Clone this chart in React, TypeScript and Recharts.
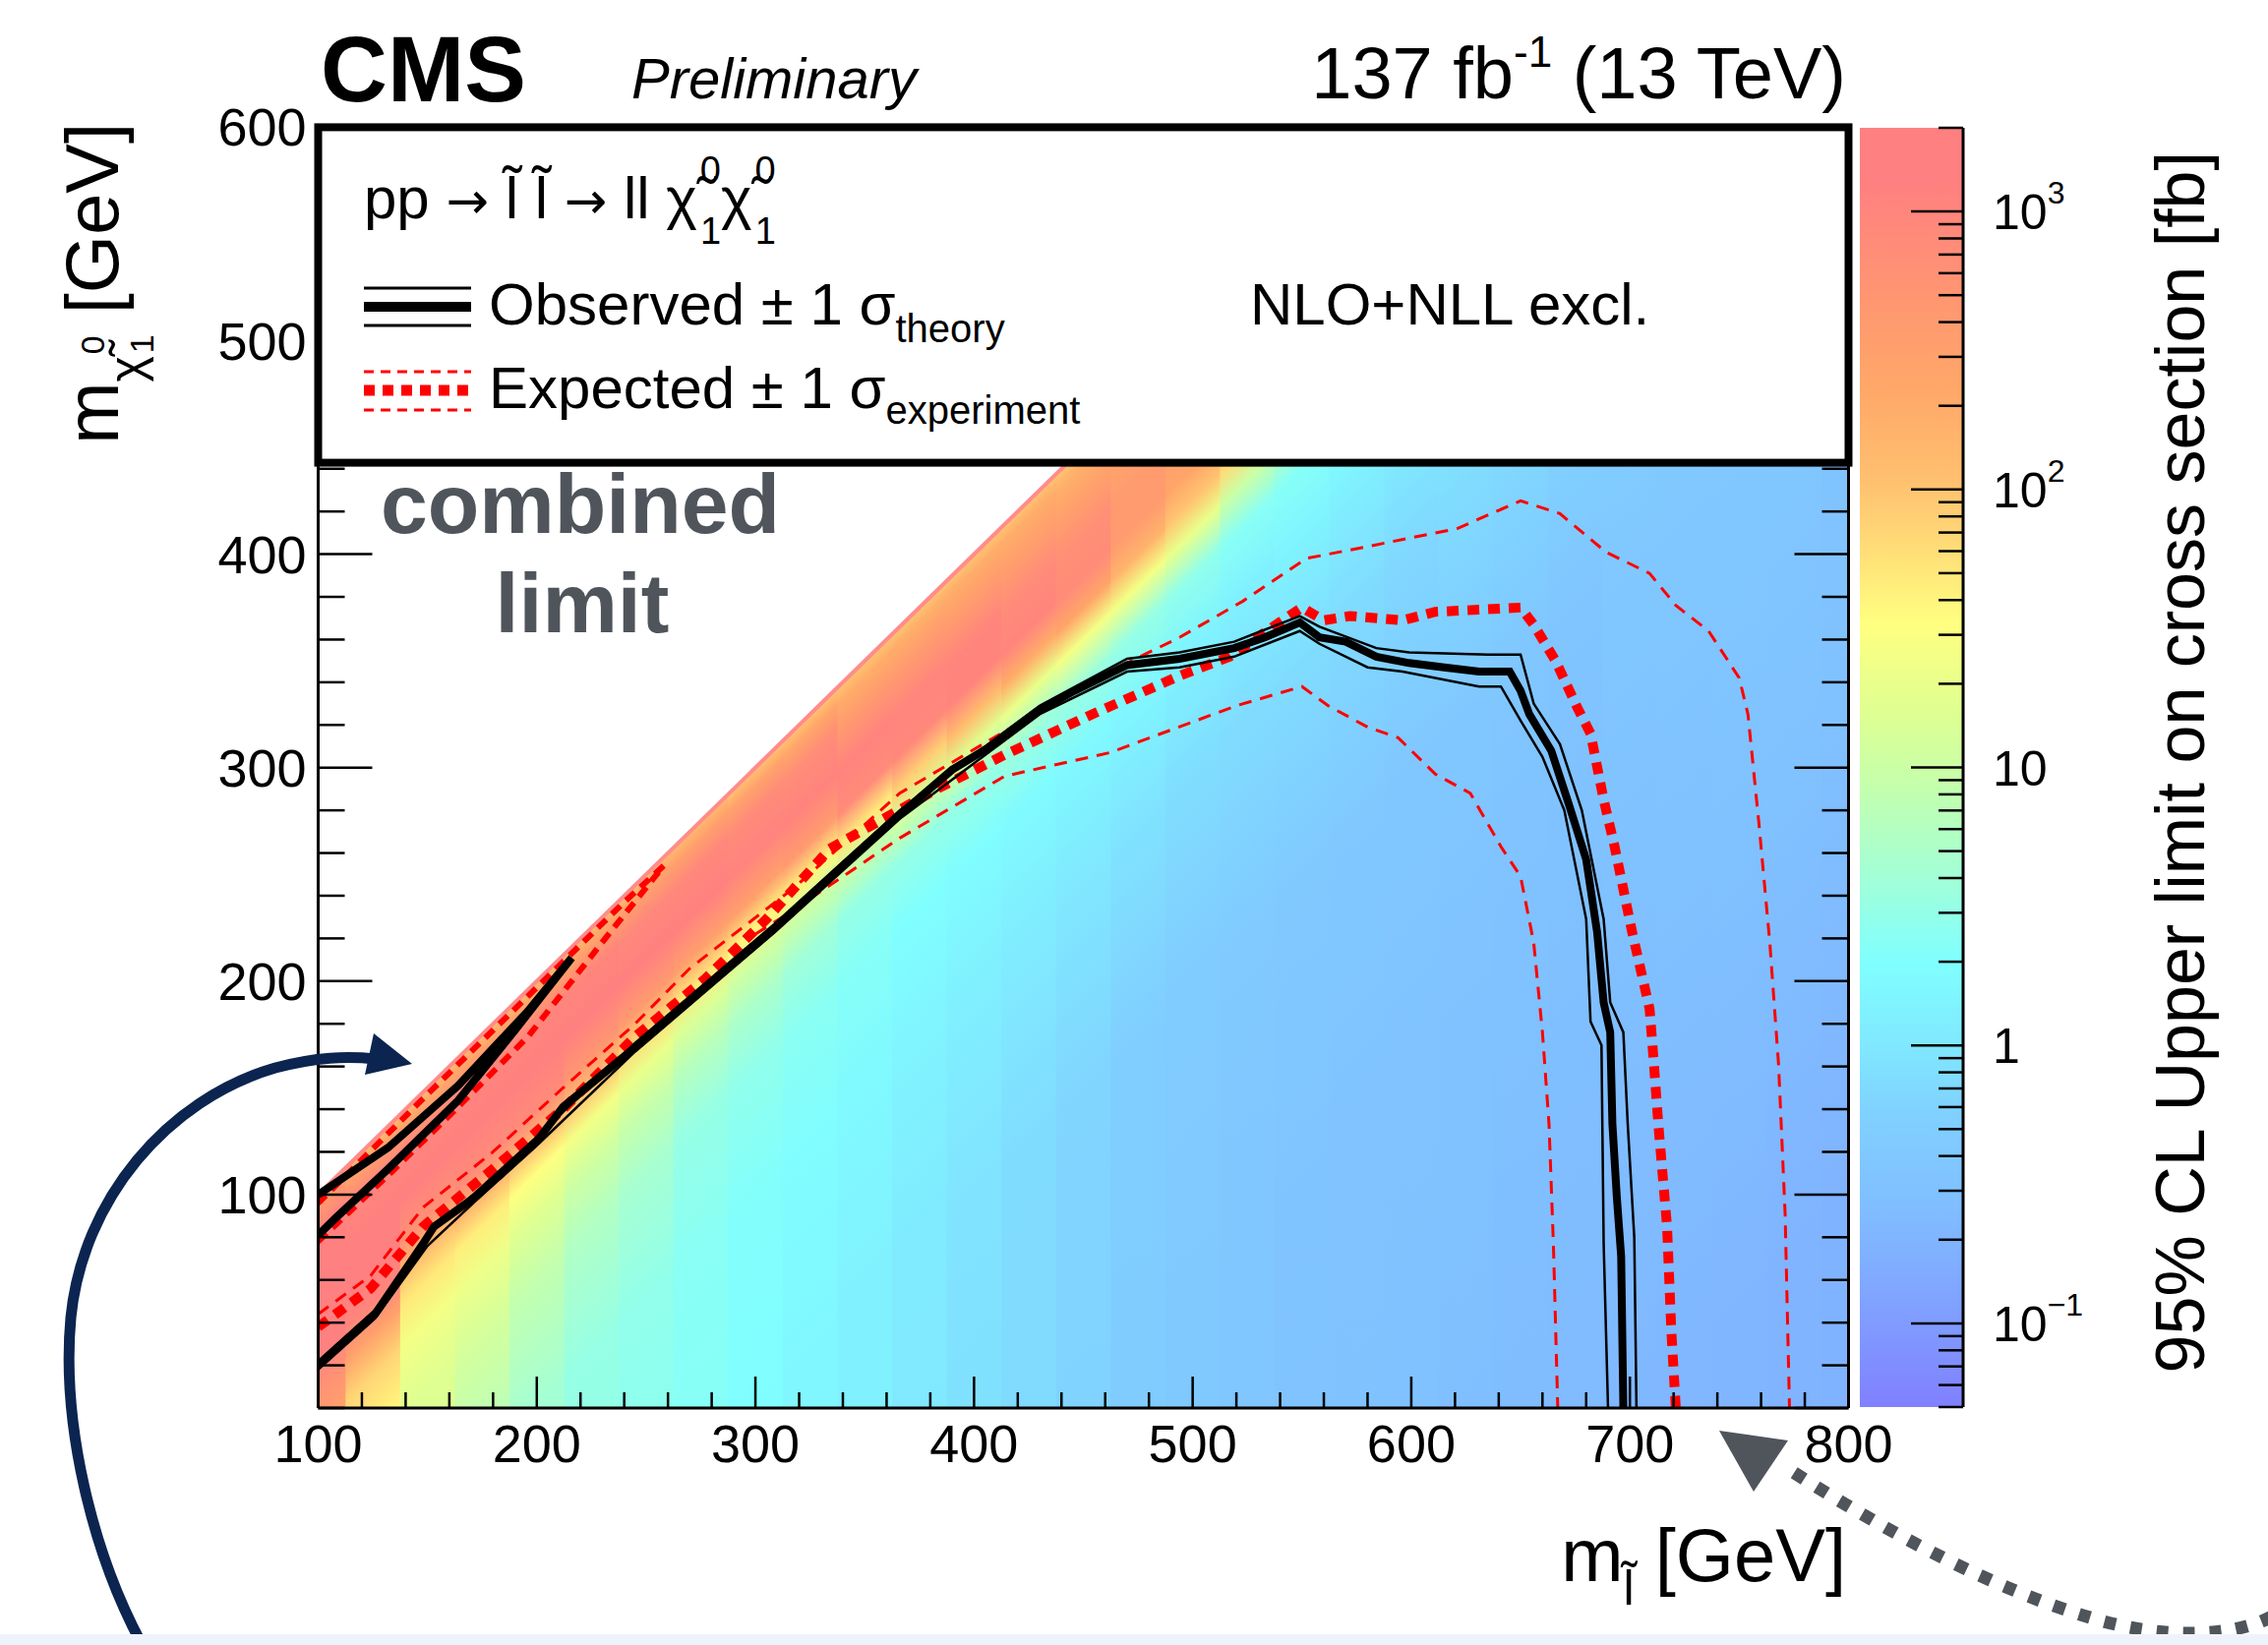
import React from "react";
import { ComposedChart, Line, XAxis, YAxis, ReferenceArea } from "recharts";

const FONT = '"Liberation Sans", Arial, Helvetica, sans-serif';
const SYM_FONT = '"DejaVu Sans", sans-serif';

const X_MIN = 100;
const X_MAX = 800;
const Y_MAX = 600;

const X_TICKS = [100, 120, 140, 160, 180, 200, 220, 240, 260, 280, 300, 320, 340, 360, 380, 400, 420, 440, 460, 480, 500, 520, 540, 560, 580, 600, 620, 640, 660, 680, 700, 720, 740, 760, 780, 800];
const X_LABELS = [100, 200, 300, 400, 500, 600, 700, 800];
const Y_TICKS = [0, 20, 40, 60, 80, 100, 120, 140, 160, 180, 200, 220, 240, 260, 280, 300, 320, 340, 360, 380, 400, 420, 440, 460, 480, 500, 520, 540, 560, 580, 600];
const Y_LABELS = [100, 200, 300, 400, 500, 600];

const CB_DOMAIN = [0.05, 2000];
const CB_TICKS = [0.05, 0.06, 0.07, 0.08, 0.09, 0.1, 0.2, 0.3, 0.4, 0.5, 0.6, 0.7, 0.8, 0.9, 1, 2, 3, 4, 5, 6, 7, 8, 9, 10, 20, 30, 40, 50, 60, 70, 80, 90, 100, 200, 300, 400, 500, 600, 700, 800, 900, 1000, 2000];
const CB_LABELS = [0.1, 1, 10, 100, 1000];

// colour palette (log10 of the limit in fb -> colour)
const PAL_LOG = [-1.3, -0.86, -0.55, -0.25, 0, 0.3, 0.66, 0.97, 1.21, 1.52, 1.76, 2.03, 2.35, 2.65, 3.1, 3.31];
const PAL_HEX = ["#8080ff", "#80a8ff", "#80c0ff", "#80d0ff", "#80e8ff", "#80ffff", "#a8ffd0", "#c8ffa8", "#e0ff90", "#ffff80", "#ffe078", "#ffc070", "#ffa868", "#ff9870", "#ff8080", "#ff8080"];

// heat map: one column per 25 GeV slepton mass, log10(limit/fb) vs distance to the diagonal
const HEAT_COLUMNS = [100, 125, 150, 175, 200, 225, 250, 275, 300, 325, 350, 375, 400, 425, 450, 475, 500, 525, 550, 575, 600, 625, 650, 675, 700, 725, 750, 775, 800];
const HEAT_DM = [0, 8, 20, 40, 60, 75, 90, 110, 140, 200, 300, 450, 700];
const HEAT_LOG = [
  [2.2, 2.7, 3.1, 3.2, 3.2, 3.1, 2.8, 2.5, 2.5, 2.5, 2.5, 2.5, 2.5],
  [2.1, 2.5, 3.0, 3.2, 3.2, 3.0, 2.5, 1.85, 1.55, 1.5, 1.5, 1.5, 1.5],
  [2.1, 2.5, 3.0, 3.15, 2.8, 2.1, 1.7, 1.4, 1.2, 1.15, 1.15, 1.15, 1.15],
  [2.1, 2.5, 3.0, 3.15, 2.9, 2.2, 1.65, 1.35, 1.1, 0.8, 0.8, 0.8, 0.8],
  [2.1, 2.5, 3.0, 3.15, 2.9, 2.1, 1.5, 1.2, 0.92, 0.62, 0.6, 0.6, 0.6],
  [2.1, 2.5, 3.0, 3.1, 2.7, 2.0, 1.4, 1.05, 0.75, 0.5, 0.45, 0.45, 0.45],
  [2.1, 2.5, 2.95, 3.1, 2.6, 1.8, 1.3, 0.95, 0.65, 0.45, 0.4, 0.4, 0.4],
  [2.1, 2.5, 2.95, 3.1, 2.5, 1.7, 1.15, 0.8, 0.5, 0.38, 0.35, 0.35, 0.35],
  [2.0, 2.45, 2.9, 3.05, 2.5, 1.6, 1.05, 0.7, 0.45, 0.32, 0.28, 0.28, 0.28],
  [2.0, 2.4, 2.85, 3.05, 2.6, 1.6, 1.0, 0.6, 0.4, 0.28, 0.2, 0.2, 0.2],
  [2.0, 2.3, 2.6, 3.05, 2.9, 1.7, 1.0, 0.5, 0.35, 0.22, 0.12, 0.12, 0.12],
  [2.0, 2.3, 2.6, 3.0, 2.95, 1.9, 1.1, 0.5, 0.3, 0.15, 0.02, 0.0, 0.0],
  [2.0, 2.3, 2.55, 3.0, 3.0, 2.1, 1.2, 0.5, 0.28, 0.1, -0.05, -0.08, -0.08],
  [2.0, 2.3, 2.5, 2.9, 3.0, 2.3, 1.3, 0.55, 0.25, 0.05, -0.12, -0.15, -0.15],
  [2.0, 2.25, 2.45, 2.8, 2.9, 2.4, 1.4, 0.55, 0.22, 0.0, -0.2, -0.22, -0.22],
  [1.95, 2.2, 2.4, 2.6, 2.6, 2.2, 1.4, 0.5, 0.2, -0.05, -0.28, -0.32, -0.33],
  [1.9, 2.1, 2.3, 2.5, 2.4, 2.0, 1.3, 0.45, 0.15, -0.1, -0.35, -0.38, -0.4],
  [1.8, 2.0, 2.2, 2.3, 2.2, 1.8, 1.0, 0.38, 0.12, -0.12, -0.37, -0.43, -0.45],
  [1.7, 1.9, 2.1, 2.2, 2.0, 1.5, 0.8, 0.35, 0.15, -0.12, -0.38, -0.47, -0.5],
  [1.6, 1.8, 2.0, 2.0, 1.8, 1.3, 0.7, 0.3, 0.1, -0.15, -0.4, -0.5, -0.52],
  [1.5, 1.7, 1.9, 1.9, 1.6, 1.1, 0.6, 0.25, 0.05, -0.18, -0.42, -0.5, -0.54],
  [1.4, 1.6, 1.8, 1.8, 1.5, 1.0, 0.5, 0.2, 0.0, -0.15, -0.42, -0.52, -0.57],
  [1.3, 1.5, 1.7, 1.7, 1.4, 0.9, 0.45, 0.15, -0.05, -0.17, -0.43, -0.54, -0.6],
  [1.2, 1.4, 1.6, 1.6, 1.3, 0.8, 0.4, 0.1, -0.1, -0.22, -0.45, -0.55, -0.62],
  [1.1, 1.3, 1.5, 1.5, 1.2, 0.7, 0.35, 0.05, -0.15, -0.27, -0.4, -0.53, -0.65],
  [1.0, 1.2, 1.4, 1.4, 1.1, 0.6, 0.3, 0.0, -0.2, -0.3, -0.4, -0.52, -0.66],
  [1.0, 1.1, 1.3, 1.3, 1.0, 0.5, 0.2, -0.05, -0.25, -0.35, -0.4, -0.5, -0.68],
  [0.9, 1.0, 1.2, 1.2, 0.9, 0.4, 0.1, -0.1, -0.3, -0.4, -0.42, -0.5, -0.7],
  [0.8, 0.9, 1.1, 1.1, 0.8, 0.3, 0.0, -0.15, -0.3, -0.4, -0.45, -0.52, -0.72],
];

// exclusion contours [m_slepton, m_LSP]
const OBS_MAIN: [number, number][] = [[100, 20], [126, 44], [148, 77], [153, 85], [172, 99], [200, 125], [212, 141], [245, 169], [277, 197], [309, 225], [341, 255], [366, 278], [390, 299], [406, 309], [430, 327], [446, 336], [470, 348], [494, 351], [519, 356], [533, 361], [549, 368], [558, 361], [570, 359], [584, 352], [599, 349], [615, 347], [631, 345], [645, 345], [650, 336], [654, 325], [664, 308], [672, 283], [680, 257], [685, 223], [688, 190], [691, 176], [692, 133], [694, 99], [696, 71], [697, 0]];
const OBS_UP: [number, number][] = [[100, 22], [126, 46], [150, 81], [172, 101], [200, 127], [245, 171], [309, 227], [366, 280], [430, 329], [470, 351], [494, 354], [519, 359], [549, 371], [558, 366], [584, 356], [599, 354], [635, 353], [650, 353], [656, 330], [668, 311], [678, 280], [688, 229], [691, 190], [697, 176], [699, 133], [702, 80], [703, 0]];
const OBS_DOWN: [number, number][] = [[100, 18], [126, 42], [150, 76], [172, 97], [200, 123], [245, 167], [309, 223], [366, 276], [430, 325], [470, 345], [494, 347], [519, 352], [549, 364], [558, 358], [580, 347], [596, 345], [631, 338], [641, 338], [650, 322], [660, 305], [670, 280], [680, 229], [682, 181], [687, 170], [688, 77], [690, 0]];
const OBS_DIAG: [number, number][] = [[100, 100], [132, 122], [164, 151], [196, 186], [216, 211], [190, 177], [164, 144], [132, 112], [108, 89], [100, 81]];
const EXP_MAIN: [number, number][] = [[100, 38], [124, 56], [148, 85], [180, 112], [213, 141], [245, 174], [277, 201], [305, 229], [334, 262], [383, 290], [414, 306], [454, 325], [494, 343], [517, 352], [541, 369], [550, 375], [560, 369], [572, 371], [596, 369], [611, 373], [631, 374], [650, 375], [656, 367], [666, 350], [676, 328], [682, 316], [688, 285], [693, 263], [701, 223], [709, 187], [711, 161], [713, 133], [717, 85], [719, 35], [721, 0]];
const EXP_UP: [number, number][] = [[100, 44], [124, 62], [148, 94], [180, 120], [212, 150], [245, 180], [270, 206], [318, 244], [366, 288], [414, 317], [470, 349], [494, 361], [523, 378], [552, 398], [582, 404], [621, 412], [650, 425], [668, 419], [689, 401], [709, 391], [721, 376], [736, 364], [750, 342], [754, 325], [759, 274], [764, 218], [768, 161], [771, 91], [773, 0]];
const EXP_DOWN: [number, number][] = [[300, 222], [314, 231], [366, 267], [414, 296], [462, 307], [491, 318], [520, 329], [550, 338], [562, 329], [580, 319], [594, 314], [611, 297], [627, 288], [641, 263], [650, 249], [656, 218], [660, 176], [663, 133], [665, 77], [667, 0]];
const EXP_DIAG: [number, number][] = [[100, 78], [132, 109], [164, 141], [196, 174], [229, 217], [258, 254], [240, 237], [200, 197], [150, 147], [100, 96]];
const DIAG_EDGE: [number, number][] = [[100, 100], [600, 600]];

const HALF_BIN = 12.5;
const DM_SPAN = HEAT_DM[HEAT_DM.length - 1];

const toPts = (arr: [number, number][]) => arr.map(([x, y]) => ({ x, y }));

function hexRgb(h: string) {
  return [parseInt(h.slice(1, 3), 16), parseInt(h.slice(3, 5), 16), parseInt(h.slice(5, 7), 16)];
}

function colorAt(v: number) {
  if (v <= PAL_LOG[0]) return PAL_HEX[0];
  for (let i = 1; i < PAL_LOG.length; i++) {
    if (v <= PAL_LOG[i]) {
      const t = (v - PAL_LOG[i - 1]) / (PAL_LOG[i] - PAL_LOG[i - 1]);
      const a = hexRgb(PAL_HEX[i - 1]);
      const b = hexRgb(PAL_HEX[i]);
      const c = a.map((ai, k) => Math.round(ai + (b[k] - ai) * t));
      return `rgb(${c[0]},${c[1]},${c[2]})`;
    }
  }
  return PAL_HEX[PAL_HEX.length - 1];
}

function HeatColumn(props: any) {
  const { x, y, width, height, col } = props;
  const c = HEAT_COLUMNS[col];
  const xa = Math.max(X_MIN, c - HALF_BIN);
  const xb = Math.min(X_MAX, c + HALF_BIN);
  const top = Math.min(xb, Y_MAX);
  const kx = width / (xb - xa);
  const ky = height / top;
  const base = y + height;
  const px = (v: number) => x + (v - xa) * kx;
  const py = (v: number) => base - Math.min(v, Y_MAX) * ky;
  // gradient runs perpendicular to the m_LSP = m_slepton diagonal
  const len = Math.hypot(kx, ky);
  const span = (kx * ky * DM_SPAN) / len;
  const gx1 = px(xa);
  const gy1 = base - xa * ky;
  const gx2 = gx1 + (ky / len) * span;
  const gy2 = gy1 + (kx / len) * span;
  const id = `heat-col-${col}`;
  const right = px(xb) + 0.8;
  const pts = `${px(xa)},${base} ${right},${base} ${right},${py(xb)} ${px(xa)},${py(xa)}`;
  return (
    <g>
      <defs>
        <linearGradient id={id} gradientUnits="userSpaceOnUse" x1={gx1} y1={gy1} x2={gx2} y2={gy2}>
          {HEAT_DM.map((dm, i) => (
            <stop key={i} offset={dm / DM_SPAN} stopColor={colorAt(HEAT_LOG[col][i])} />
          ))}
        </linearGradient>
      </defs>
      <polygon points={pts} fill={`url(#${id})`} />
    </g>
  );
}

function XTick(props: any) {
  const { x, y, payload } = props;
  const major = X_LABELS.includes(payload.value);
  return (
    <g>
      <line x1={x} x2={x} y1={y} y2={y - (major ? 32 : 16)} stroke="#000" strokeWidth={2.5} />
      {major && (
        <text x={x} y={y + 55} textAnchor="middle" fontSize={54} fontFamily={FONT} fill="#000">
          {payload.value}
        </text>
      )}
    </g>
  );
}

function YTickLeft(props: any) {
  const { x, y, payload } = props;
  const major = Y_LABELS.includes(payload.value);
  return (
    <g>
      <line x1={x} x2={x + (major ? 55 : 27)} y1={y} y2={y} stroke="#000" strokeWidth={2.5} />
      {major && (
        <text x={x - 12} y={y + 19} textAnchor="end" fontSize={54} fontFamily={FONT} fill="#000">
          {payload.value}
        </text>
      )}
    </g>
  );
}

function YTickRight(props: any) {
  const { x, y, payload } = props;
  const major = Y_LABELS.includes(payload.value) || payload.value === 0;
  return <line x1={x} x2={x - (major ? 55 : 27)} y1={y} y2={y} stroke="#000" strokeWidth={2.5} />;
}

function CbTick(props: any) {
  const { x, y, payload } = props;
  const v = payload.value;
  const major = CB_LABELS.includes(v);
  const exp = Math.round(Math.log10(v));
  return (
    <g>
      <line x1={x} x2={x - (major ? 53 : 25)} y1={y} y2={y} stroke="#000" strokeWidth={2.5} />
      {major && exp === 0 && (
        <text x={x + 30} y={y + 18} fontSize={50} fontFamily={FONT} fill="#000">1</text>
      )}
      {major && exp === 1 && (
        <text x={x + 30} y={y + 18} fontSize={50} fontFamily={FONT} fill="#000">10</text>
      )}
      {major && exp !== 0 && exp !== 1 && (
        <text x={x + 30} y={y + 18} fontSize={50} fontFamily={FONT} fill="#000">
          10<tspan dy={-26} fontSize={32}>{exp < 0 ? "\u2212" + Math.abs(exp) : String(exp)}</tspan>
        </text>
      )}
    </g>
  );
}

const lineProps = { dot: false, activeDot: false, isAnimationActive: false, type: "linear" as const, dataKey: "y" };

export default function App() {
  const cbLogMax = Math.log10(CB_DOMAIN[1]);
  const cbLogMin = Math.log10(CB_DOMAIN[0]);
  const cbStops = PAL_LOG.map((v, i) => ({
    offset: Math.min(1, Math.max(0, (cbLogMax - v) / (cbLogMax - cbLogMin))),
    color: PAL_HEX[i],
  })).reverse();
  return (
    <div style={{ position: "absolute", left: 0, top: 0, width: 2306, height: 1673, background: "#fff", fontFamily: FONT }}>
      <div style={{ position: "absolute", left: 0, top: 0 }}>
        <ComposedChart width={2306} height={1673} margin={{ top: 129.4, right: 366.5, bottom: 181, left: 263.5 }}>
          {HEAT_COLUMNS.map((c, i) => (
            <ReferenceArea
              key={c}
              x1={Math.max(X_MIN, c - HALF_BIN)}
              x2={Math.min(X_MAX, c + HALF_BIN)}
              y1={0}
              y2={Math.min(Y_MAX, c + HALF_BIN)}
              ifOverflow="visible"
              shape={(p: any) => <HeatColumn {...p} col={i} />}
            />
          ))}
          <XAxis
            type="number"
            dataKey="x"
            domain={[X_MIN, X_MAX]}
            allowDataOverflow
            ticks={X_TICKS}
            interval={0}
            height={60}
            tickSize={0}
            tickMargin={0}
            tick={(p: any) => <XTick {...p} />}
            axisLine={{ stroke: "#000", strokeWidth: 3 }}
            tickLine={false}
          />
          <YAxis
            type="number"
            domain={[0, Y_MAX]}
            allowDataOverflow
            ticks={Y_TICKS}
            interval={0}
            width={60}
            tickSize={0}
            tickMargin={0}
            tick={(p: any) => <YTickLeft {...p} />}
            axisLine={{ stroke: "#000", strokeWidth: 3 }}
            tickLine={false}
          />
          <YAxis
            yAxisId="r"
            orientation="right"
            type="number"
            domain={[0, Y_MAX]}
            allowDataOverflow
            ticks={Y_TICKS}
            interval={0}
            width={60}
            tickSize={0}
            tickMargin={0}
            tick={(p: any) => <YTickRight {...p} />}
            axisLine={{ stroke: "#000", strokeWidth: 3 }}
            tickLine={false}
          />
          <Line {...lineProps} data={toPts(DIAG_EDGE)} stroke="#ff8c8c" strokeWidth={4} />
          <Line {...lineProps} data={toPts(EXP_UP)} stroke="#ff0000" strokeWidth={3} strokeDasharray="13 9" />
          <Line {...lineProps} data={toPts(EXP_DOWN)} stroke="#ff0000" strokeWidth={3} strokeDasharray="13 9" />
          <Line {...lineProps} data={toPts(EXP_DIAG)} stroke="#ff0000" strokeWidth={6} strokeDasharray="12 8" />
          <Line {...lineProps} data={toPts(EXP_MAIN)} stroke="#ff0000" strokeWidth={10} strokeDasharray="12 9" />
          <Line {...lineProps} data={toPts(OBS_UP)} stroke="#000" strokeWidth={2.5} />
          <Line {...lineProps} data={toPts(OBS_DOWN)} stroke="#000" strokeWidth={2.5} />
          <Line {...lineProps} data={toPts(OBS_DIAG)} stroke="#000" strokeWidth={8} />
          <Line {...lineProps} data={toPts(OBS_MAIN)} stroke="#000" strokeWidth={8} />
        </ComposedChart>
      </div>

      <div style={{ position: "absolute", left: 1850, top: 0 }}>
        <ComposedChart width={400} height={1673} margin={{ top: 130, right: 54, bottom: 242, left: 41 }}>
          <defs>
            <linearGradient id="cbGrad" x1="0" y1="0" x2="0" y2="1">
              {cbStops.map((s, i) => (
                <stop key={i} offset={s.offset} stopColor={s.color} />
              ))}
            </linearGradient>
          </defs>
          <XAxis type="number" dataKey="x" domain={[0, 1]} allowDataOverflow hide />
          <YAxis
            orientation="right"
            type="number"
            scale="log"
            domain={CB_DOMAIN}
            allowDataOverflow
            ticks={CB_TICKS}
            interval={0}
            width={200}
            tickSize={0}
            tickMargin={0}
            tick={(p: any) => <CbTick {...p} />}
            axisLine={{ stroke: "#000", strokeWidth: 3 }}
            tickLine={false}
          />
          <ReferenceArea x1={0} x2={1} y1={CB_DOMAIN[0]} y2={CB_DOMAIN[1]} fill="url(#cbGrad)" fillOpacity={1} stroke="none" ifOverflow="visible" />
        </ComposedChart>
      </div>

      <svg width={2306} height={1673} style={{ position: "absolute", left: 0, top: 0, pointerEvents: "none" }} fontFamily={FONT}>
        {/* header */}
        <text x={326} y={103} fontSize={94} fontWeight="bold" fill="#000">CMS</text>
        <text x={642} y={100} fontSize={58} fontStyle="italic" fill="#000">Preliminary</text>
        <text x={1877} y={100} fontSize={74} textAnchor="end" fill="#000">
          137 fb<tspan dy={-32} fontSize={44}>-1</tspan>
          <tspan dy={32}> (13 TeV)</tspan>
        </text>

        {/* legend box */}
        <rect x={323.5} y={129.4} width={1556} height={341.2} fill="#fff" stroke="#000" strokeWidth={8} />
        <text x={370} y={222} fontSize={60} fill="#000">
          pp <tspan fontFamily={SYM_FONT} fontSize={52}>{"\u2192"}</tspan> l{"\u0303"} l{"\u0303"}{" "}
          <tspan fontFamily={SYM_FONT} fontSize={52}>{"\u2192"}</tspan> ll {"\u03c7\u0303"}
          <tspan dx={3} dy={-36} fontSize={38}>0</tspan>
          <tspan dx={-21} dy={62} fontSize={38}>1</tspan>
          <tspan dy={-26}>{"\u03c7\u0303"}</tspan>
          <tspan dx={3} dy={-36} fontSize={38}>0</tspan>
          <tspan dx={-21} dy={62} fontSize={38}>1</tspan>
        </text>
        <line x1={370} x2={479} y1={293} y2={293} stroke="#000" strokeWidth={3} />
        <line x1={370} x2={479} y1={312} y2={312} stroke="#000" strokeWidth={10} />
        <line x1={370} x2={479} y1={331} y2={331} stroke="#000" strokeWidth={3} />
        <text x={497} y={330} fontSize={60} fill="#000">
          Observed {"\u00b1"} 1 {"\u03c3"}
          <tspan dy={18} fontSize={40}>theory</tspan>
        </text>
        <text x={1271} y={330} fontSize={60} fill="#000">NLO+NLL excl.</text>
        <line x1={370} x2={479} y1={378} y2={378} stroke="#ff0000" strokeWidth={3} strokeDasharray="10 7" />
        <line x1={370} x2={479} y1={397} y2={397} stroke="#ff0000" strokeWidth={11} strokeDasharray="11 8" />
        <line x1={370} x2={479} y1={417} y2={417} stroke="#ff0000" strokeWidth={3} strokeDasharray="10 7" />
        <text x={497} y={415} fontSize={60} fill="#000">
          Expected {"\u00b1"} 1 {"\u03c3"}
          <tspan dy={16} fontSize={40}>experiment</tspan>
        </text>

        {/* axis titles */}
        <text transform="translate(120,125) rotate(-90)" textAnchor="end" fontSize={76} fill="#000">
          m<tspan fontSize={50} dy={26}>{"\u03c7\u0303"}</tspan>
          <tspan fontSize={34} dx={2} dy={-40}>0</tspan>
          <tspan fontSize={34} dx={-18} dy={50}>1</tspan>
          <tspan dy={-36}> [GeV]</tspan>
        </text>
        <text x={1877} y={1608} textAnchor="end" fontSize={76} fill="#000">
          m<tspan fontSize={50} dy={24}>l{"\u0303"}</tspan>
          <tspan dy={-24}> [GeV]</tspan>
        </text>
        <text transform="translate(2241,154) rotate(-90)" textAnchor="end" fontSize={70} fill="#000">
          95% CL Upper limit on cross section [fb]
        </text>

        {/* annotation */}
        <text x={590} y={542} textAnchor="middle" fontSize={86} fontWeight="bold" fill="#50555c">combined</text>
        <text x={592} y={643} textAnchor="middle" fontSize={86} fontWeight="bold" fill="#50555c">limit</text>

        <path d="M 143 1670 C 95 1580, 62 1450, 72 1340 C 84 1220, 170 1118, 280 1086 C 322 1075, 352 1074, 382 1077" fill="none" stroke="#0b2550" strokeWidth={11} />
        <polygon points="419,1082 380,1051 371,1093" fill="#0b2550" />

        <path d="M 2310 1644 C 2270 1665, 2200 1668, 2125 1645 C 2030 1617, 1920 1560, 1812 1490" fill="none" stroke="#50555c" strokeWidth={13} strokeDasharray="12 15" />
        <polygon points="1748,1455 1818,1465 1783,1517" fill="#50555c" />

        <rect x={0} y={1662} width={2306} height={11} fill="#eef3fb" />
      </svg>
    </div>
  );
}
